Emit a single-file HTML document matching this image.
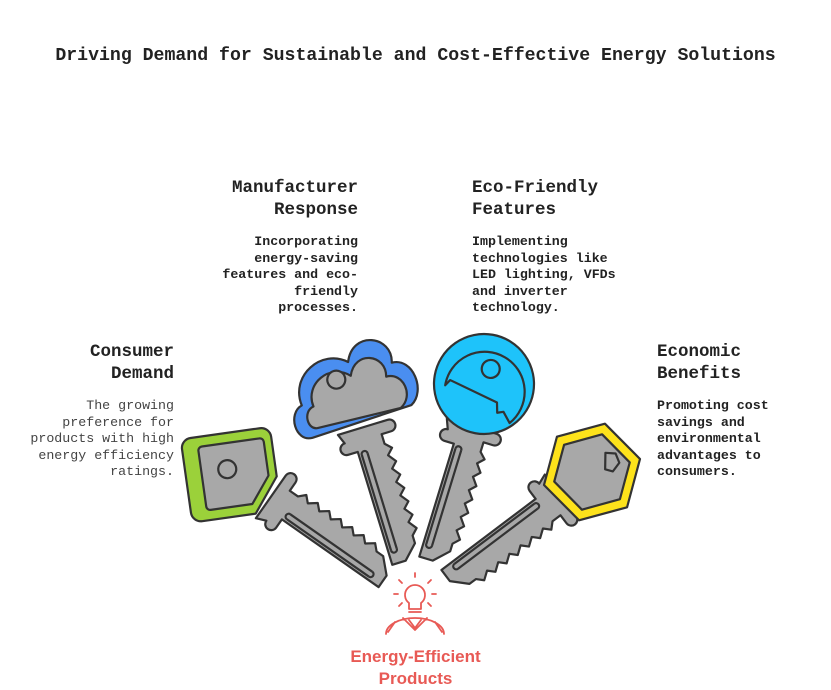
<!DOCTYPE html>
<html><head><meta charset="utf-8"><style>
body{margin:0;background:#fff;width:831px;height:690px;overflow:hidden;font-family:"Liberation Mono",monospace;}
.t{position:absolute;white-space:pre;color:#222;}
.h{font-weight:bold;font-size:17.5px;line-height:22px;}
.d{font-weight:bold;font-size:13.3px;line-height:16.5px;}
.r{text-align:right}
</style></head><body>
<div class="t h" style="left:0;width:831px;text-align:center;top:45px;font-size:18.2px">Driving Demand for Sustainable and Cost-Effective Energy Solutions</div>
<div class="t h r" style="right:473px;top:177px">Manufacturer
Response</div>
<div class="t d r" style="right:473px;top:234px">Incorporating
energy-saving
features and eco-
friendly
processes.</div>
<div class="t h" style="left:472px;top:177px">Eco-Friendly
Features</div>
<div class="t d" style="left:472px;top:234px">Implementing
technologies like
LED lighting, VFDs
and inverter
technology.</div>
<div class="t h r" style="right:657px;top:341px">Consumer
Demand</div>
<div class="t d r" style="right:657px;top:398px;font-weight:normal;color:#444">The growing
preference for
products with high
energy efficiency
ratings.</div>
<div class="t h" style="left:657px;top:341px">Economic
Benefits</div>
<div class="t d" style="left:657px;top:398px">Promoting cost
savings and
environmental
advantages to
consumers.</div>
<div class="t" style="left:0;width:831px;text-align:center;top:646px;font-family:'Liberation Sans',sans-serif;font-weight:bold;font-size:17px;line-height:22px;color:#e85a55">Energy-Efficient
Products</div>
<svg width="831" height="690" style="position:absolute;left:0;top:0" stroke="#333" stroke-width="2.2" stroke-linejoin="round">
<defs>
<g id="blade">
<path d="M-26 32 h52 a5 5 0 0 1 0 12 h-10 v10 l6 6 -6 6 6 8 -6 6 6 8 -6 6 6 8 -6 6 6 8 -6 6 6 8 -6 6 6 8 -6 6 v8 l-14 14 h-14 v-118 h-10 a5 5 0 0 1 0 -12z" fill="#a8a8a8"/>
<path d="M-9 58 v100 M-3 58 v100" fill="none"/>
<path d="M-9 58 a3 3 0 0 1 6 0 M-9 158 a3 3 0 0 0 6 0" fill="none"/>
</g>
</defs>
<!-- blades -->
<use href="#blade" transform="translate(238,474) rotate(-55) translate(0,8)"/>
<use href="#blade" transform="translate(352,392) rotate(-17) translate(0,5)"/>
<use href="#blade" transform="translate(484,386) rotate(17) translate(0,10)"/>
<use href="#blade" transform="translate(594,470) rotate(53) translate(0,10)"/>
<!-- key1 green -->
<g transform="translate(236,474) rotate(-8)">
<path d="M-40 -42 h70 a10 10 0 0 1 10 10 v40 l-26 34 h-54 a10 10 0 0 1 -10 -10 v-64 a10 10 0 0 1 10 -10z" fill="#9bd13a"/>
<path d="M-30 -32 h58 a4 4 0 0 1 4 4 v34 l-20 26 h-42 a4 4 0 0 1 -4 -4 v-56 a4 4 0 0 1 4 -4z" fill="#a8a8a8"/>
<circle cx="-8" cy="-6" r="9" fill="#a8a8a8"/>
</g>
<!-- key2 blue cloud -->
<g transform="translate(352,392) rotate(-15)">
<path d="M-50 34 c-18 0 -18 -30 -2 -34 c-4 -32 34 -50 56 -30 c12 -30 50 -14 42 12 c22 0 26 36 8 46 z" fill="#4a8ef0"/>
<path d="M-42 26 c-11 0 -11 -20 1 -22 c-3 -24 27 -38 44 -20 c10 -24 40 -12 34 10 c18 0 22 26 6 34 z" fill="#a8a8a8"/>
<circle cx="-12" cy="-16" r="9" fill="#a8a8a8"/>
</g>
<!-- key3 cyan circle -->
<g transform="translate(484,384) rotate(10)">
<circle r="50" fill="#1ec3fa"/>
<path d="M-38 8 a40 40 0 1 1 70 26 l-8 -10 l-6 2 l-2 -10 l-50 -14 z" fill="#1ec3fa"/>
<circle cx="4" cy="-16" r="9" fill="#1ec3fa"/>
</g>
<!-- key4 yellow hex -->
<g transform="translate(592,472) rotate(15)">
<polygon points="0,-50 43,-25 43,25 0,50 -43,25 -43,-25" fill="#fde21b"/>
<polygon points="0,-39 34,-19 34,19 0,39 -34,19 -34,-19" fill="#a8a8a8"/>
<path d="M8 -22 l10 -2 l6 8 l-4 10 l-8 0 z" fill="#a8a8a8"/>
</g>
<!-- bulb icon -->
<g stroke="#e85a55" stroke-width="1.8" fill="none" stroke-linecap="round">
<path d="M409 603 a10 10 0 1 1 12 0 v6 h-12z"/>
<path d="M409 612 h12"/>
<path d="M415 573 v4 M399 580 l3 3 M431 580 l-3 3 M394 594 h4 M436 594 h-4 M399 606 l3 -3 M431 606 l-3 -3"/>
<path d="M386 634 a29 16 0 0 1 58 0 M395 622 l-7 10 M435 622 l7 10 M403 618 l12 12 l12 -12 M409 620 l6 8 l6 -8"/>
</g>
</svg>
</body></html>
